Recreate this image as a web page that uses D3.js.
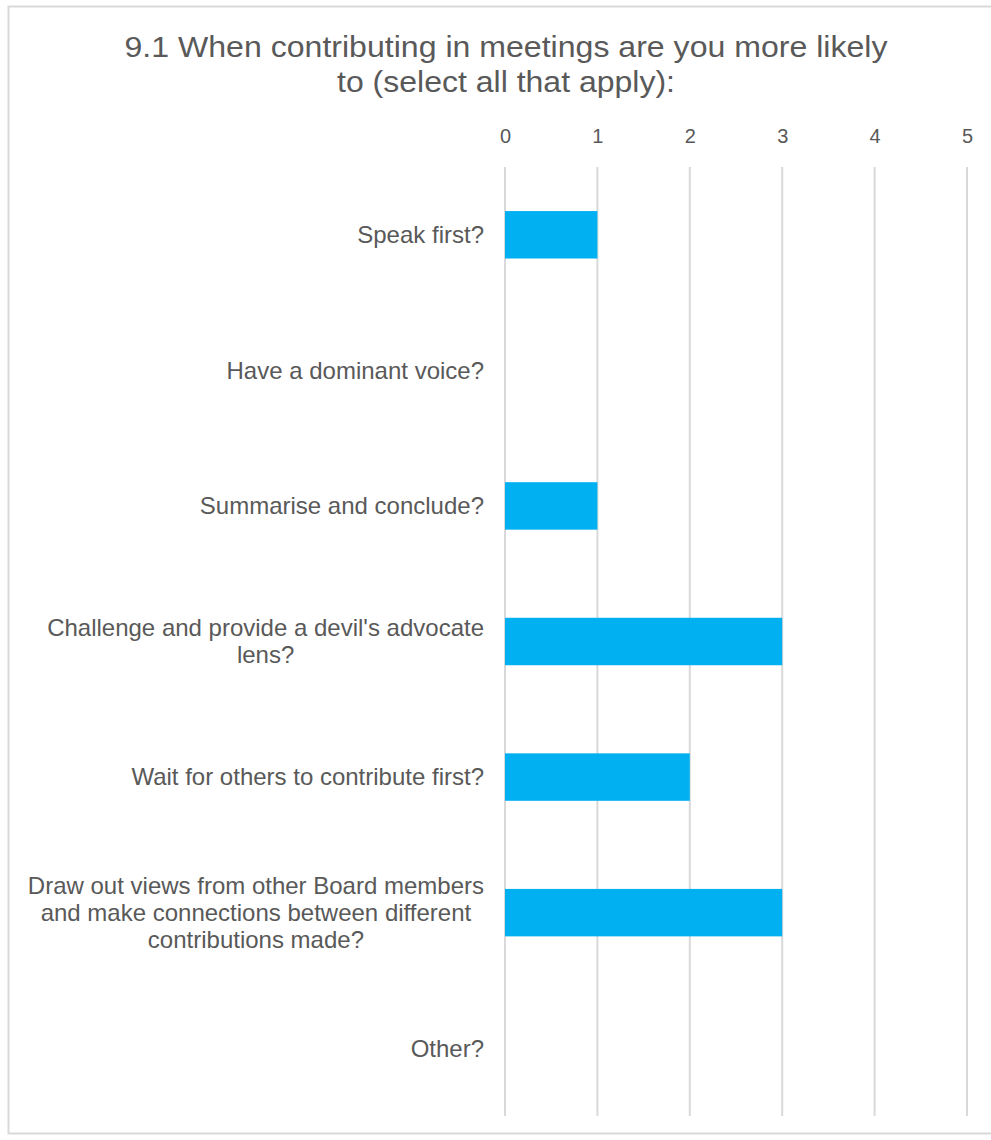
<!DOCTYPE html>
<html>
<head>
<meta charset="utf-8">
<script src="https://cdn.jsdelivr.net/npm/d3@7"></script>
<style>
  html, body { margin: 0; padding: 0; background: #ffffff; }
  svg { display: block; }
</style>
</head>
<body>
<svg id="chart" width="991" height="1140"></svg>
<script>
// Survey question 9.1 — responses per option
const titleLines = [
  "9.1 When contributing in meetings are you more likely",
  "to (select all that apply):"
];
const categories = [
  ["Speak first?"],
  ["Have a dominant voice?"],
  ["Summarise and conclude?"],
  ["Challenge and provide a devil's advocate", "lens?"],
  ["Wait for others to contribute first?"],
  ["Draw out views from other Board members", "and make connections between different", "contributions made?"],
  ["Other?"]
];
const counts = [1, 0, 1, 3, 2, 3, 0];
const tickValues = [0, 1, 2, 3, 4, 5];

const svg = d3.select("#chart");
const textColor = "#595959";

// Chart frame
svg.append("rect")
  .attr("x", 8.5).attr("y", 6.5)
  .attr("width", 1000).attr("height", 1127)
  .attr("fill", "#ffffff")
  .attr("stroke", "#d9d9d9").attr("stroke-width", 2);

// Title
const titleWidths = [763, 338];
svg.append("g").selectAll("text")
  .data(titleLines)
  .join("text")
  .attr("x", 506)
  .attr("y", (d, i) => 57 + i * 35)
  .attr("text-anchor", "middle")
  .attr("font-family", "Liberation Sans, Arial, sans-serif")
  .attr("font-size", 29)
  .attr("fill", textColor)
  .attr("textLength", (d, i) => titleWidths[i])
  .attr("lengthAdjust", "spacingAndGlyphs")
  .text(d => d);

// Scales
const x = d3.scaleLinear().domain([0, 5]).range([505, 967]);
const y = d3.scaleBand()
  .domain(d3.range(categories.length))
  .range([167, 1116])
  .paddingInner(0.65)
  .paddingOuter(0.325);

// Vertical gridlines
svg.append("g").selectAll("line")
  .data(tickValues)
  .join("line")
  .attr("x1", d => x(d)).attr("x2", d => x(d))
  .attr("y1", 167).attr("y2", 1116)
  .attr("stroke", "#d9d9d9").attr("stroke-width", 2);

// Top axis labels
const axis = d3.axisTop(x).tickValues(tickValues).tickSize(0).tickFormat(d3.format("d"));
const axisG = svg.append("g").attr("transform", "translate(0,130)").call(axis);
axisG.select(".domain").remove();
axisG.selectAll("text")
  .attr("font-family", "Liberation Sans, Arial, sans-serif")
  .attr("font-size", 20)
  .attr("fill", textColor)
  .attr("dy", "0.35em")
  .attr("y", 6);

// Bars
svg.append("g").selectAll("rect")
  .data(counts)
  .join("rect")
  .attr("x", x(0))
  .attr("y", (d, i) => y(i))
  .attr("width", d => x(d) - x(0))
  .attr("height", y.bandwidth())
  .attr("fill", "#00b0f0");

// Category labels: wrapped lines centred within a right-aligned block
const labelRight = 484;
const lineH = 27;
const labels = svg.append("g")
  .attr("font-family", "Liberation Sans, Arial, sans-serif")
  .attr("font-size", 24)
  .attr("fill", textColor);

categories.forEach((lines, i) => {
  const cy = y(i) + y.bandwidth() / 2;
  const g = labels.append("g");
  const texts = g.selectAll("text")
    .data(lines)
    .join("text")
    .attr("y", (d, j) => cy + (j - (lines.length - 1) / 2) * lineH)
    .attr("dy", "0.35em")
    .attr("text-anchor", "middle")
    .text(d => d);
  let maxW = 0;
  texts.each(function () { maxW = Math.max(maxW, this.getComputedTextLength()); });
  texts.attr("x", labelRight - maxW / 2);
});
</script>
</body>
</html>
